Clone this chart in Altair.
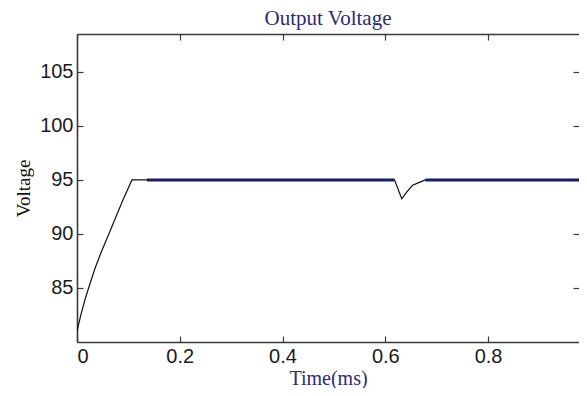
import altair as alt
import pandas as pd

# Output voltage trace (black, thin)
out_t = [0, 0.008, 0.016, 0.024, 0.035, 0.047, 0.062, 0.075, 0.09, 0.107, 0.12, 0.136,
         0.618, 0.632, 0.642, 0.653, 0.665, 0.678, 1.0]
out_v = [81.0, 82.6, 84.0, 85.2, 86.8, 88.3, 90.0, 91.5, 93.2, 95.0, 95.0, 95.0,
         95.0, 93.25, 93.9, 94.5, 94.75, 95.0, 95.0]

# Steady 95 V trace (navy, thick)
ref_t = [0.136, 0.618, 0.678, 1.0]
ref_v = [95, 95, 95, 95]
ref_seg = ["a", "a", "b", "b"]

x_ticks = [0, 0.2, 0.4, 0.6, 0.8]
y_ticks = [85, 90, 95, 100, 105]
x_domain = [0, 0.977]
y_domain = [80, 108.5]

df_out = pd.DataFrame({"t": out_t, "v": out_v})
df_ref = pd.DataFrame({"t": ref_t, "v": ref_v, "seg": ref_seg})

NAVY = "#2b2b78"
AX = "#3a3a3a"
xs = alt.Scale(domain=x_domain, nice=False, zero=False)
ys = alt.Scale(domain=y_domain, nice=False, zero=False)

lab = dict(labelFont="Liberation Sans", labelFontSize=20, labelColor="#1a1a1a",
           grid=False)

def tick_axis(orient, values):
    return alt.Axis(orient=orient, offset=-6, domain=False, labels=False,
                    ticks=True, tickSize=6, tickColor=AX, tickWidth=1.2,
                    values=values, title=None, grid=False)

l1 = alt.Chart(df_out).mark_line(color="#111111", strokeWidth=1.2, clip=True).encode(
    x=alt.X("t:Q", scale=xs, axis=alt.Axis(
        orient="bottom", values=x_ticks, format="~g", tickSize=0, labelPadding=4,
        domainColor=AX, domainWidth=1.6,
        title="Time(ms)", titleFont="Liberation Serif", titleFontSize=20,
        titleFontWeight="normal", titleColor=NAVY, titlePadding=2, **lab)),
    y=alt.Y("v:Q", scale=ys, axis=alt.Axis(
        orient="left", values=y_ticks, tickSize=0, labelPadding=4,
        domainColor=AX, domainWidth=1.6,
        title="Voltage", titleFont="Liberation Serif", titleFontSize=19,
        titleFontWeight="normal", titleColor="#111111", titlePadding=6, **lab)),
)

l2 = alt.Chart(df_ref).mark_line(color="#1c1c6a", strokeWidth=3, clip=True).encode(
    x=alt.X("t:Q", scale=xs, axis=alt.Axis(
        orient="top", labels=False, ticks=False, domain=True, domainColor=AX,
        domainWidth=1.6, title=None, grid=False)),
    y=alt.Y("v:Q", scale=ys, axis=tick_axis("right", y_ticks)),
    detail="seg:N",
)

l3 = alt.Chart(df_out).mark_line(opacity=0).encode(
    x=alt.X("t:Q", scale=xs, axis=tick_axis("bottom", x_ticks)),
    y=alt.Y("v:Q", scale=ys, axis=tick_axis("left", y_ticks)),
)

l4 = alt.Chart(df_out).mark_line(opacity=0).encode(
    x=alt.X("t:Q", scale=xs, axis=tick_axis("top", x_ticks)),
    y=alt.Y("v:Q", scale=ys, axis=None),
)

chart = alt.layer(l1, l2, l3, l4).resolve_axis(
    x="independent", y="independent"
).properties(
    width=502, height=308,
    title=alt.Title("Output Voltage", font="Liberation Serif", fontSize=21,
                    fontWeight="normal", color=NAVY, baseline="alphabetic",
                    offset=-13, anchor="middle"),
    autosize=alt.AutoSizeParams(type="none"),
    padding={"left": 69, "top": 26, "right": 0, "bottom": 46},
).configure_view(stroke=None).configure(background="white")

chart.save("out.html", embed_options={"renderer": "svg", "actions": False})
